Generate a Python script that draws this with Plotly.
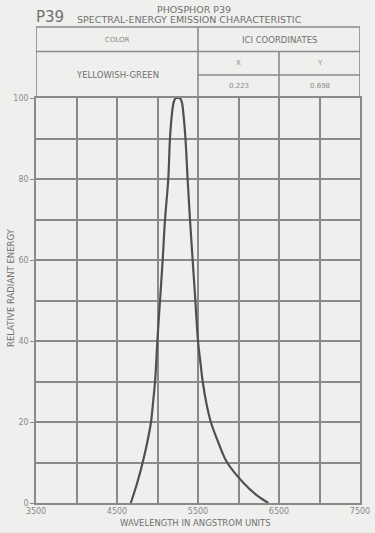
import plotly.graph_objects as go

# Data
wavelength = [4670, 4750, 4817, 4874, 4920, 4946, 4970, 4985, 4998, 5031, 5064, 5093, 5133, 5154,
              5178, 5200, 5225, 5250, 5275, 5300, 5320, 5345, 5372, 5401, 5434, 5467, 5500, 5528,
              5558, 5600, 5658, 5750, 5860, 6060, 6220, 6368]
energy = [0, 5, 10, 15, 20, 25, 30, 35, 40, 50, 60, 70, 80, 90,
          96, 99, 100, 100, 100, 99, 96, 90, 80, 70, 60, 50, 40, 35,
          30, 25, 20, 15, 10, 5, 2, 0]
x_ticks = [3500, 4500, 5500, 6500, 7500]
y_ticks = [0, 20, 40, 60, 80, 100]

BG = "#efefed"
GRID = "#8a8a8a"
TXT = "#8a8a8a"
HEAD = "#707070"
FONT = "DejaVu Sans"

fig = go.Figure()
fig.add_trace(go.Scatter(x=wavelength, y=energy, mode="lines",
                         line=dict(color="#505050", width=2.2, shape="spline", smoothing=1.0),
                         hoverinfo="skip", showlegend=False))

W, H = 375, 533
ml, mr, mt, mb = 36, 15, 27, 30
ph = H - mt - mb
pw = W - ml - mr
def py(pix):
    return (H - mb - pix) / ph
def px(pix):
    return (pix - ml) / pw

top_plot = py(98)
fig.update_layout(
    width=W, height=H,
    margin=dict(l=ml, r=mr, t=mt, b=mb),
    paper_bgcolor=BG, plot_bgcolor=BG,
    font=dict(family=FONT, color=TXT, size=8),
    xaxis=dict(range=[3500, 7500], tickvals=x_ticks, ticktext=[str(v) for v in x_ticks],
               automargin=False, ticklabeloverflow="allow",
               showgrid=True, gridcolor=GRID, gridwidth=1.6,
               minor=dict(dtick=500, tick0=3500, showgrid=True, gridcolor=GRID, gridwidth=1.6),
               zeroline=False, showline=True, linecolor=GRID, linewidth=1.6, mirror=True,
               ticks="", tickfont=dict(size=8, color=TXT)),
    yaxis=dict(range=[0, 100], domain=[0, top_plot], tickvals=y_ticks,
               automargin=False,
               showgrid=True, gridcolor=GRID, gridwidth=1.6,
               minor=dict(dtick=10, tick0=0, showgrid=True, gridcolor=GRID, gridwidth=1.6),
               zeroline=False, showline=True, linecolor=GRID, linewidth=1.6, mirror=True,
               ticks="outside", ticklen=4, tickcolor=GRID, tickfont=dict(size=8, color=TXT)),
)

# Table above the plot
r1 = py(51.5)
r2 = py(75)
lines = [
    (3500, 1.0, 7500, 1.0),
    (3500, top_plot, 3500, 1.0),
    (7500, top_plot, 7500, 1.0),
    (5500, top_plot, 5500, 1.0),
    (3500, r1, 7500, r1),
    (5500, r2, 7500, r2),
    (6500, top_plot, 6500, r1),
]
for x0, y0, x1, y1 in lines:
    fig.add_shape(type="line", xref="x", yref="paper", x0=x0, y0=y0, x1=x1, y1=y1,
                  line=dict(color=GRID, width=1.6))

def label(x, ypix, text, size=8, color=TXT, xanchor="center"):
    fig.add_annotation(x=x, y=py(ypix), xref="x", yref="paper", text=text, showarrow=False,
                       xanchor=xanchor, yanchor="middle", font=dict(size=size, color=color, family=FONT))

label(4500, 40, "COLOR", size=7)
label(6500, 40, "ICI COORDINATES", size=8.5, color=HEAD)
label(4500, 75, "YELLOWISH-GREEN", size=8.5, color=HEAD)
label(6000, 63, "X", size=7)
label(7000, 63, "Y", size=7)
label(6000, 86, "0.223", size=7)
label(7000, 86, "0.698", size=7)

# Titles
fig.add_annotation(xref="paper", yref="paper", x=px(34), y=py(17), text="P39", showarrow=False,
                   xanchor="left", yanchor="middle", font=dict(size=15, color=HEAD, family=FONT))
label(5450, 10, "PHOSPHOR P39", size=9.5, color=HEAD)
label(5400, 19, "SPECTRAL-ENERGY EMISSION CHARACTERISTIC", size=9.5, color=HEAD)

# Axis titles
fig.add_annotation(xref="paper", yref="paper", x=px(195), y=py(523),
                   text="WAVELENGTH IN ANGSTROM UNITS", showarrow=False,
                   xanchor="center", yanchor="middle", font=dict(size=8.5, color=HEAD, family=FONT))
fig.add_annotation(xref="paper", yref="paper", x=px(11), y=py(288),
                   text="RELATIVE RADIANT ENERGY", showarrow=False, textangle=-90,
                   xanchor="center", yanchor="middle", font=dict(size=8.5, color=HEAD, family=FONT))

fig.write_html("out.html", config={"displayModeBar": False},
               post_script="document.body.style.margin='0';")
